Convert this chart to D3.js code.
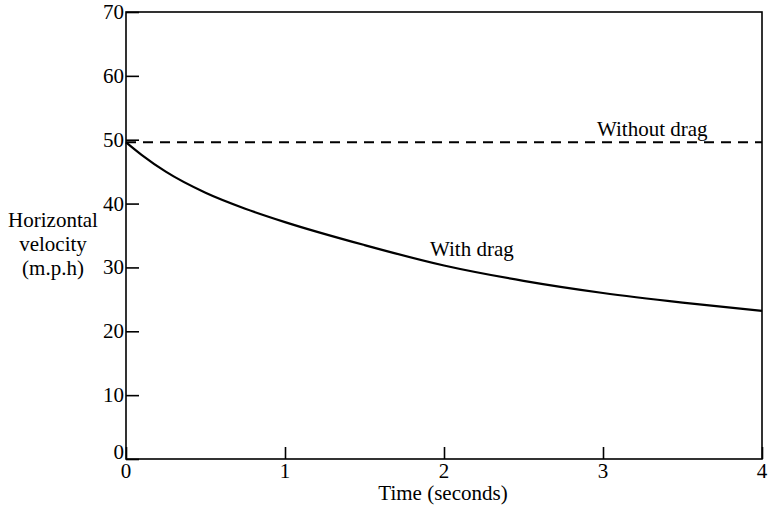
<!DOCTYPE html>
<html><head><meta charset="utf-8">
<script src="https://cdn.jsdelivr.net/npm/d3@7"></script>
<style>body{margin:0;background:#fff}svg{display:block}</style>
</head><body>
<svg id="c" width="769" height="507"></svg>
<script>
const timeTicks = [0, 1, 2, 3, 4];
const velocityTicks = [0, 10, 20, 30, 40, 50, 60, 70];
const withDragT = [0, 0.1, 0.25, 0.5, 0.75, 1, 1.5, 2, 2.5, 3, 3.5, 4];
const withDragV = [49.6, 47.6, 45.0, 41.7, 39.2, 37.1, 33.5, 30.3, 27.9, 26.0, 24.5, 23.2];
const withoutDragT = [0, 4];
const withoutDragV = [49.6, 49.6];
const yLabelLines = ["Horizontal", "velocity", "(m.p.h)"];

const FONT = "'Liberation Serif'";
const svg = d3.select("#c");
const L = 126, R = 762, T = 12, B = 459;
const x = d3.scaleLinear().domain([0, 4]).range([L, R]);
const y = d3.scaleLinear().domain([0, 70]).range([B, T]);

function txt(sel) {
  return sel.style("font-family", FONT).attr("font-size", 21).attr("fill", "#000");
}

// box
svg.append("rect").attr("x", L).attr("y", T).attr("width", R - L).attr("height", B - T)
  .attr("fill", "none").attr("stroke", "#000").attr("stroke-width", 1.6);

// y ticks (inside)
const ya = svg.append("g").attr("transform", `translate(${L},0)`)
  .call(d3.axisRight(y).tickValues(velocityTicks).tickSize(13).tickFormat(""));
ya.select(".domain").remove();
ya.selectAll("line").attr("stroke-width", 1.6);
txt(svg.append("g").selectAll("text").data(velocityTicks).join("text")
  .attr("x", L - 2).attr("y", d => d === 0 ? y(d) : y(d) + 7).attr("text-anchor", "end")
  .text(d => d));

// x ticks (inside)
const xa = svg.append("g").attr("transform", `translate(0,${B})`)
  .call(d3.axisTop(x).tickValues(timeTicks).tickSize(12).tickFormat(""));
xa.select(".domain").remove();
xa.selectAll("line").attr("stroke-width", 1.6);
txt(svg.append("g").selectAll("text").data(timeTicks).join("text")
  .attr("x", d => x(d)).attr("y", B + 19).attr("text-anchor", "middle")
  .text(d => d));

// axis titles
txt(svg.append("text").attr("x", 443).attr("y", 500).attr("text-anchor", "middle")
  .text("Time (seconds)"));
txt(svg.append("g").selectAll("text").data(yLabelLines).join("text")
  .attr("x", 53).attr("y", (d, i) => 227 + i * 24).attr("text-anchor", "middle")
  .text(d => d));

const line = d3.line().x(d => x(d[0])).y(d => y(d[1]));
svg.append("path").datum(withoutDragT.map((t, i) => [t, withoutDragV[i]]))
  .attr("d", line).attr("fill", "none").attr("stroke", "#000")
  .attr("stroke-width", 2).attr("stroke-dasharray", "10,7");
svg.append("path").datum(withDragT.map((t, i) => [t, withDragV[i]]))
  .attr("d", line.curve(d3.curveMonotoneX)).attr("fill", "none").attr("stroke", "#000")
  .attr("stroke-width", 2.2);

txt(svg.append("text").attr("x", 597).attr("y", 136).text("Without drag"));
txt(svg.append("text").attr("x", 430).attr("y", 256).text("With drag"));
</script>
</body></html>
